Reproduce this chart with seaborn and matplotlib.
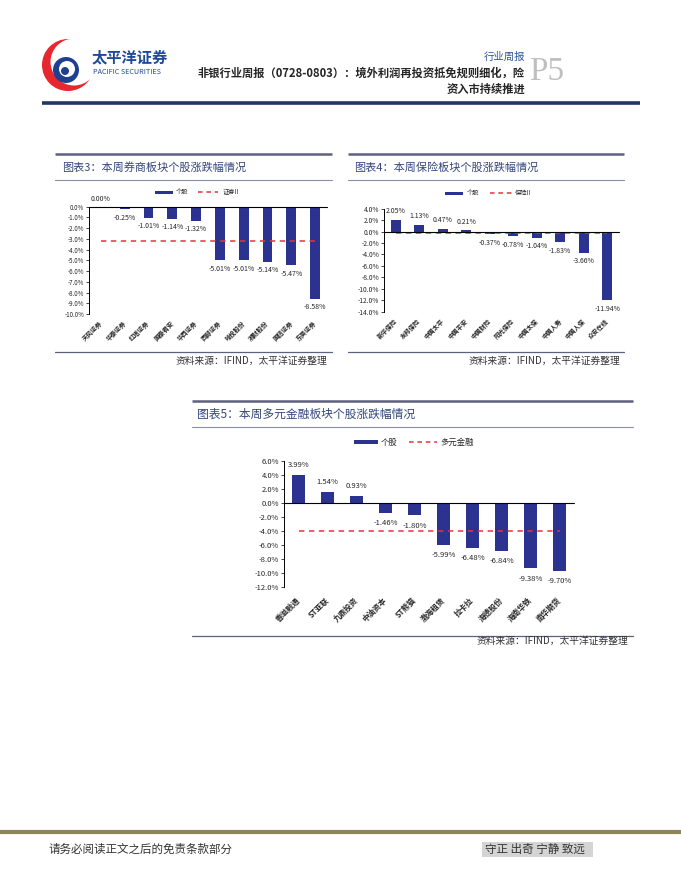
import numpy as np
import matplotlib.pyplot as plt
import seaborn as sns
from matplotlib.patches import Rectangle, Circle

W, H = 681, 881

# 图表3 券商
broker_names = ["天风证券", "华泰证券", "红塔证券", "国泰君安", "华西证券",
                "西部证券", "哈投股份", "湘财股份", "国信证券", "东吴证券"]
broker_chg = [0.00, -0.25, -1.01, -1.14, -1.32, -5.01, -5.01, -5.14, -5.47, -8.58]
broker_index = -3.2

# 图表4 保险
insur_names = ["新华保险", "友邦保险", "中国太平", "中国平安", "中国财险",
               "阳光保险", "中国太保", "中国人寿", "中国人保", "众安在线"]
insur_chg = [2.05, 1.13, 0.47, 0.21, -0.37, -0.78, -1.04, -1.83, -3.66, -11.94]
insur_index = -0.2

# 图表5 多元金融
multi_names = ["香溢融通", "ST亚联", "九鼎投资", "中油资本", "ST熊猫",
               "渤海租赁", "拉卡拉", "海德股份", "海南华铁", "南华期货"]
multi_chg = [3.99, 1.54, 0.93, -1.46, -1.80, -5.99, -6.48, -6.84, -9.38, -9.70]
multi_index = -4.1

NAVY = "#2B3290"
RED = "#E3343F"
LINE = "#5E6080"
TITLE = "#34467C"

sns.set_style("white")
plt.rcParams["font.family"] = ["Noto Sans CJK SC", "DejaVu Sans"]
plt.rcParams["axes.unicode_minus"] = False

fig = plt.figure(figsize=(W / 100, H / 100), dpi=100)
page = fig.add_axes([0, 0, 1, 1])
page.set_xlim(0, W)
page.set_ylim(H, 0)
page.axis("off")


def box(left, top, right, bottom):
    return [left / W, 1 - bottom / H, (right - left) / W, (bottom - top) / H]


def bar_panel(rect, names, values, index, ylim, step, fs_tick, fs_cat, fs_val,
              off, cat_pad):
    ax = fig.add_axes(box(*rect))
    ax.set_facecolor("none")
    sns.barplot(x=names, y=values, ax=ax, color=NAVY, saturation=1,
                width=0.42, linewidth=0)
    ax.plot([0, len(values) - 1], [index, index], color=RED, lw=1.1,
            ls=(0, (3.5, 3)), zorder=3)
    ax.axhline(0, color="black", lw=0.8, zorder=4, clip_on=False)
    ax.set_ylim(*ylim)
    ax.set_xlim(-0.5, len(values) - 0.5)
    ticks = np.arange(ylim[0], ylim[1] + step / 2, step)
    ax.set_yticks(ticks)
    ax.set_yticklabels([f"{t + 0.0:.1f}%" for t in ticks], fontsize=fs_tick)
    ax.set_xticks(range(len(names)))
    ax.set_xticklabels(names, rotation=45, ha="right", va="center",
                       rotation_mode="anchor", fontsize=fs_cat, fontweight="bold")
    ax.tick_params(axis="x", length=0, pad=cat_pad)
    ax.tick_params(axis="y", length=2, width=0.6, direction="out", pad=1.5,
                   left=True)
    for s in ["right", "bottom", "top"]:
        ax.spines[s].set_visible(False)
    ax.spines["left"].set_color("black")
    ax.spines["left"].set_linewidth(0.7)
    ax.set_xlabel("")
    ax.set_ylabel("")
    for i, v in enumerate(values):
        ax.annotate(f"{v:.2f}%", (i, v), xytext=(0, off if v >= 0 else -off),
                    textcoords="offset points", ha="center",
                    va="bottom" if v >= 0 else "top", fontsize=fs_val,
                    annotation_clip=False)
    return ax


def panel_frame(x0, x1, y_top, y_sub, y_bot, title, tx, ty, fs_title, sx, sy):
    page.plot([x0, x1], [y_top, y_top], color=LINE, lw=1.8, solid_capstyle="butt")
    page.plot([x0, x1], [y_sub, y_sub], color="#8C8EA8", lw=0.8)
    page.plot([x0, x1], [y_bot, y_bot], color=LINE, lw=0.9)
    page.text(tx, ty, title, fontsize=fs_title, color=TITLE, va="center")
    page.text(sx, sy, "资料来源：IFIND，太平洋证券整理", fontsize=7,
              color="#333333", ha="right", va="center")


def legend(x_patch, x_patch2, x_txt1, x_dash, x_dash2, x_txt2, y, name, fs, h):
    page.add_patch(Rectangle((x_patch, y - h / 2), x_patch2 - x_patch, h,
                             color=NAVY, lw=0))
    page.text(x_txt1, y, "个股", fontsize=fs, va="center")
    page.plot([x_dash, x_dash2], [y, y], color=RED, lw=1.1, ls=(0, (3, 2.5)))
    page.text(x_txt2, y, name, fontsize=fs, va="center")


# ---- header ----
page.add_patch(Circle((68, 65), 26, color="#E8262D", lw=0))
page.add_patch(Circle((74, 62), 23.5, color="white", lw=0))
page.add_patch(Circle((66, 70), 13, color="#1F3F8F", lw=0))
page.add_patch(Circle((67, 69), 8, color="white", lw=0))
page.add_patch(Circle((65, 71), 4, color="#1F3F8F", lw=0))
page.text(92, 57, "太平洋证券", fontsize=11, fontweight="bold", color="#1F4A98",
          va="center")
page.text(93, 72, "PACIFIC SECURITIES", fontsize=5.2, color="#1F4A98", va="center")
page.text(525, 57, "行业周报", fontsize=7.5, color="#2F5597", ha="right", va="center")
page.text(525, 73, "非银行业周报（0728-0803）：境外利润再投资抵免规则细化，险",
          fontsize=8.1, fontweight="bold", ha="right", va="center")
page.text(525, 89, "资入市持续推进", fontsize=8.1, fontweight="bold", ha="right",
          va="center")
page.text(529, 72, "P5", fontsize=24, color="#BFBFBF", family="Liberation Serif",
          va="center")
page.plot([42, 640], [103, 103], color="#1F3864", lw=2.6, solid_capstyle="butt")

# ---- panels ----
panel_frame(55, 332, 154, 180, 352, "图表3：本周券商板块个股涨跌幅情况",
            62, 167, 8, 327, 361)
panel_frame(348, 624, 154, 180, 352, "图表4：本周保险板块个股涨跌幅情况",
            354, 167, 8, 620, 361)
panel_frame(192, 633, 401, 427, 636, "图表5：本周多元金融板块个股涨跌幅情况",
            197, 414, 8.5, 628, 641)

legend(155, 173, 176, 198, 218, 223, 192, "证券II", 4.5, 3)
legend(445, 463, 467, 490, 512, 515, 193, "保险II", 4.5, 3)
legend(354, 378, 381, 409, 437, 440, 442, "多元金融", 6, 4)

bar_panel((89, 206.7, 327, 314), broker_names, broker_chg, broker_index,
          (-10, 0), 1, 4.5, 4.5, 5, 3, 6)
bar_panel((384, 208.7, 619, 311.7), insur_names, insur_chg, insur_index,
          (-14, 4), 2, 4.8, 4.5, 5, 3.5, 6)
bar_panel((284, 460.7, 574, 586.7), multi_names, multi_chg, multi_index,
          (-12, 6), 2, 5.5, 5.5, 5.5, 4.5, 9)

# ---- footer ----
page.plot([0, W], [832, 832], color="#8C8558", lw=3)
page.text(48, 849, "请务必阅读正文之后的免责条款部分", fontsize=8.3, color="#333333",
          va="center")
page.add_patch(Rectangle((482, 842), 111, 15, color="#D4D4D4", lw=0))
page.text(485, 849.5, "守正 出奇 宁静 致远", fontsize=8.3, color="#333333", va="center")

fig.savefig("out.png", dpi=100)
